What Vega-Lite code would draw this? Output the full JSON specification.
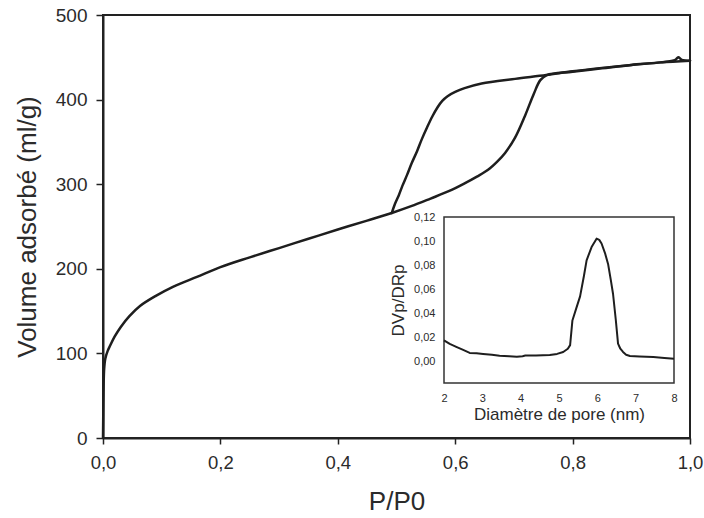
{
  "$schema": "https://vega.github.io/schema/vega-lite/v6.json",
  "autosize": {"type": "none"},
  "width": 587,
  "height": 423,
  "padding": {"left": 103, "top": 15, "right": 14, "bottom": 80},
  "background": "white",
  "config": {
    "font": "Liberation Sans",
    "view": {"stroke": "#222222", "strokeWidth": 2},
    "axis": {"grid": false, "labelColor": "#2b2b2b", "titleColor": "#2b2b2b", "titleFontWeight": "normal", "labelFont": "Liberation Sans", "titleFont": "Liberation Sans"}
  },
  "datasets": {
    "iso": [
      {"s": "ads", "i": 1, "p": 0.0, "v": 0},
      {"s": "ads", "i": 2, "p": 0.0005, "v": 30},
      {"s": "ads", "i": 3, "p": 0.001, "v": 60},
      {"s": "ads", "i": 4, "p": 0.002, "v": 82},
      {"s": "ads", "i": 5, "p": 0.004, "v": 94},
      {"s": "ads", "i": 6, "p": 0.008, "v": 103},
      {"s": "ads", "i": 7, "p": 0.012, "v": 109},
      {"s": "ads", "i": 8, "p": 0.02, "v": 120},
      {"s": "ads", "i": 9, "p": 0.03, "v": 131},
      {"s": "ads", "i": 10, "p": 0.045, "v": 144},
      {"s": "ads", "i": 11, "p": 0.063, "v": 156},
      {"s": "ads", "i": 12, "p": 0.09, "v": 168},
      {"s": "ads", "i": 13, "p": 0.12, "v": 179},
      {"s": "ads", "i": 14, "p": 0.16, "v": 190.5},
      {"s": "ads", "i": 15, "p": 0.2, "v": 202},
      {"s": "ads", "i": 16, "p": 0.25, "v": 213.5},
      {"s": "ads", "i": 17, "p": 0.3, "v": 224.5},
      {"s": "ads", "i": 18, "p": 0.35, "v": 235.5},
      {"s": "ads", "i": 19, "p": 0.4, "v": 246.5},
      {"s": "ads", "i": 20, "p": 0.45, "v": 257},
      {"s": "ads", "i": 21, "p": 0.492, "v": 266},
      {"s": "ads", "i": 22, "p": 0.525, "v": 274},
      {"s": "ads", "i": 23, "p": 0.558, "v": 283},
      {"s": "ads", "i": 24, "p": 0.59, "v": 292},
      {"s": "ads", "i": 25, "p": 0.616, "v": 301},
      {"s": "ads", "i": 26, "p": 0.637, "v": 309},
      {"s": "ads", "i": 27, "p": 0.656, "v": 317},
      {"s": "ads", "i": 28, "p": 0.672, "v": 327},
      {"s": "ads", "i": 29, "p": 0.685, "v": 337},
      {"s": "ads", "i": 30, "p": 0.702, "v": 355},
      {"s": "ads", "i": 31, "p": 0.719, "v": 381},
      {"s": "ads", "i": 32, "p": 0.734, "v": 407},
      {"s": "ads", "i": 33, "p": 0.745, "v": 423},
      {"s": "ads", "i": 34, "p": 0.756, "v": 429},
      {"s": "ads", "i": 35, "p": 0.8, "v": 433},
      {"s": "ads", "i": 36, "p": 0.85, "v": 437},
      {"s": "ads", "i": 37, "p": 0.9, "v": 441},
      {"s": "ads", "i": 38, "p": 0.95, "v": 444},
      {"s": "ads", "i": 39, "p": 0.975, "v": 447},
      {"s": "ads", "i": 40, "p": 0.98, "v": 450},
      {"s": "ads", "i": 41, "p": 0.986, "v": 447},
      {"s": "ads", "i": 42, "p": 1.0, "v": 446},
      {"s": "des", "i": 1, "p": 1.0, "v": 446},
      {"s": "des", "i": 2, "p": 0.95, "v": 444},
      {"s": "des", "i": 3, "p": 0.9, "v": 441},
      {"s": "des", "i": 4, "p": 0.85, "v": 437.5},
      {"s": "des", "i": 5, "p": 0.8, "v": 433.5},
      {"s": "des", "i": 6, "p": 0.755, "v": 429},
      {"s": "des", "i": 7, "p": 0.702, "v": 424.5},
      {"s": "des", "i": 8, "p": 0.645, "v": 419},
      {"s": "des", "i": 9, "p": 0.616, "v": 413.5},
      {"s": "des", "i": 10, "p": 0.6, "v": 409},
      {"s": "des", "i": 11, "p": 0.587, "v": 404},
      {"s": "des", "i": 12, "p": 0.578, "v": 398.5},
      {"s": "des", "i": 13, "p": 0.57, "v": 391},
      {"s": "des", "i": 14, "p": 0.561, "v": 380},
      {"s": "des", "i": 15, "p": 0.552, "v": 367},
      {"s": "des", "i": 16, "p": 0.543, "v": 353},
      {"s": "des", "i": 17, "p": 0.535, "v": 339},
      {"s": "des", "i": 18, "p": 0.526, "v": 325},
      {"s": "des", "i": 19, "p": 0.518, "v": 311},
      {"s": "des", "i": 20, "p": 0.51, "v": 298},
      {"s": "des", "i": 21, "p": 0.504, "v": 287},
      {"s": "des", "i": 22, "p": 0.497, "v": 276},
      {"s": "des", "i": 23, "p": 0.492, "v": 266}
    ],
    "psd": [
      {"d": 2.0, "dv": 0.0175},
      {"d": 2.15, "dv": 0.0145},
      {"d": 2.32, "dv": 0.012},
      {"d": 2.5, "dv": 0.0095},
      {"d": 2.67, "dv": 0.007},
      {"d": 2.85, "dv": 0.0068},
      {"d": 3.02, "dv": 0.0062},
      {"d": 3.25, "dv": 0.0054},
      {"d": 3.45, "dv": 0.0047},
      {"d": 3.7, "dv": 0.0042},
      {"d": 3.9, "dv": 0.0039},
      {"d": 4.05, "dv": 0.0042},
      {"d": 4.12, "dv": 0.0048},
      {"d": 4.4, "dv": 0.0049},
      {"d": 4.76, "dv": 0.0052},
      {"d": 4.95, "dv": 0.0062},
      {"d": 5.11, "dv": 0.0078},
      {"d": 5.23, "dv": 0.0105},
      {"d": 5.29, "dv": 0.0135},
      {"d": 5.35, "dv": 0.034},
      {"d": 5.45, "dv": 0.044},
      {"d": 5.55, "dv": 0.054},
      {"d": 5.65, "dv": 0.071},
      {"d": 5.72, "dv": 0.084},
      {"d": 5.85, "dv": 0.095},
      {"d": 5.98, "dv": 0.102},
      {"d": 6.05, "dv": 0.101},
      {"d": 6.11, "dv": 0.098},
      {"d": 6.2, "dv": 0.09},
      {"d": 6.28, "dv": 0.081},
      {"d": 6.35, "dv": 0.068},
      {"d": 6.41, "dv": 0.056},
      {"d": 6.48, "dv": 0.035},
      {"d": 6.54, "dv": 0.0147},
      {"d": 6.6, "dv": 0.0105},
      {"d": 6.67, "dv": 0.0078},
      {"d": 6.75, "dv": 0.0055},
      {"d": 6.85, "dv": 0.0044},
      {"d": 7.1, "dv": 0.0041},
      {"d": 7.46, "dv": 0.0036},
      {"d": 7.75, "dv": 0.0028},
      {"d": 8.0, "dv": 0.0022}
    ],
    "frame": [
      {"x0": 2, "x1": 8, "y0": -0.018, "y1": 0.12}
    ]
  },
  "layer": [
    {
      "data": {"name": "iso"},
      "mark": {"type": "line", "color": "#1e1e1e", "strokeWidth": 2.5, "strokeJoin": "round", "strokeCap": "round", "interpolate": "catmull-rom"},
      "encoding": {
        "x": {
          "field": "p", "type": "quantitative",
          "scale": {"domain": [0, 1], "nice": false, "zero": false},
          "axis": {
            "title": "P/P0", "titleFontSize": 26, "titlePadding": 17,
            "values": [0, 0.2, 0.4, 0.6, 0.8, 1.0],
            "labelExpr": "replace(format(datum.value, '.1f'), '.', ',')",
            "labelFontSize": 18.5, "labelPadding": 9, "tickSize": 6, "tickWidth": 1.5, "tickColor": "#222222",
            "domainColor": "#222222", "domainWidth": 2, "labelFlush": false
          }
        },
        "y": {
          "field": "v", "type": "quantitative",
          "scale": {"domain": [0, 500], "nice": false},
          "axis": {
            "title": "Volume adsorbé (ml/g)", "titleFontSize": 26, "titlePadding": 15,
            "values": [0, 100, 200, 300, 400, 500],
            "labelFontSize": 19, "labelPadding": 9, "tickSize": 7, "tickWidth": 1.5, "tickColor": "#222222",
            "domainColor": "#222222", "domainWidth": 2
          }
        },
        "detail": {"field": "s", "type": "nominal"},
        "order": {"field": "i", "type": "quantitative"}
      }
    },
    {
      "layer": [
        {
          "data": {"name": "frame"},
          "mark": {"type": "rect", "fill": "white", "stroke": "#333333", "strokeWidth": 1.5},
          "encoding": {
            "x": {
              "field": "x0", "type": "quantitative",
              "scale": {"domain": [2, 8], "range": [341, 571], "nice": false, "zero": false},
              "axis": {
                "orient": "bottom", "offset": -55, "domain": false, "ticks": false,
                "values": [2, 3, 4, 5, 6, 7, 8],
                "labelFontSize": 11, "labelPadding": 9, "labelFlush": false,
                "title": "Diamètre de pore (nm)", "titleFontSize": 17, "titlePadding": 3
              }
            },
            "x2": {"field": "x1"},
            "y": {
              "field": "y0", "type": "quantitative",
              "scale": {"domain": [-0.018, 0.12], "range": [368, 202], "nice": false, "zero": false},
              "axis": {
                "orient": "left", "offset": -341, "domain": false, "ticks": false,
                "values": [0, 0.02, 0.04, 0.06, 0.08, 0.1, 0.12],
                "labelExpr": "replace(format(datum.value, '.2f'), '.', ',')",
                "labelFontSize": 11, "labelPadding": 9, "labelFlush": false,
                "title": "DVp/DRp", "titleFontSize": 17, "titlePadding": 6
              }
            },
            "y2": {"field": "y1"}
          }
        },
        {
          "data": {"name": "psd"},
          "mark": {"type": "line", "color": "#1e1e1e", "strokeWidth": 2, "strokeJoin": "round"},
          "encoding": {
            "x": {
              "field": "d", "type": "quantitative",
              "scale": {"domain": [2, 8], "range": [341, 571], "nice": false, "zero": false},
              "axis": {
                "orient": "bottom", "offset": -55, "domain": false, "ticks": false,
                "values": [2, 3, 4, 5, 6, 7, 8],
                "labelFontSize": 11, "labelPadding": 9, "labelFlush": false,
                "title": "Diamètre de pore (nm)", "titleFontSize": 17, "titlePadding": 3
              }
            },
            "y": {
              "field": "dv", "type": "quantitative",
              "scale": {"domain": [-0.018, 0.12], "range": [368, 202], "nice": false, "zero": false},
              "axis": {
                "orient": "left", "offset": -341, "domain": false, "ticks": false,
                "values": [0, 0.02, 0.04, 0.06, 0.08, 0.1, 0.12],
                "labelExpr": "replace(format(datum.value, '.2f'), '.', ',')",
                "labelFontSize": 11, "labelPadding": 9, "labelFlush": false,
                "title": "DVp/DRp", "titleFontSize": 17, "titlePadding": 6
              }
            }
          }
        }
      ]
    }
  ],
  "resolve": {"scale": {"x": "independent", "y": "independent"}, "axis": {"x": "independent", "y": "independent"}}
}
